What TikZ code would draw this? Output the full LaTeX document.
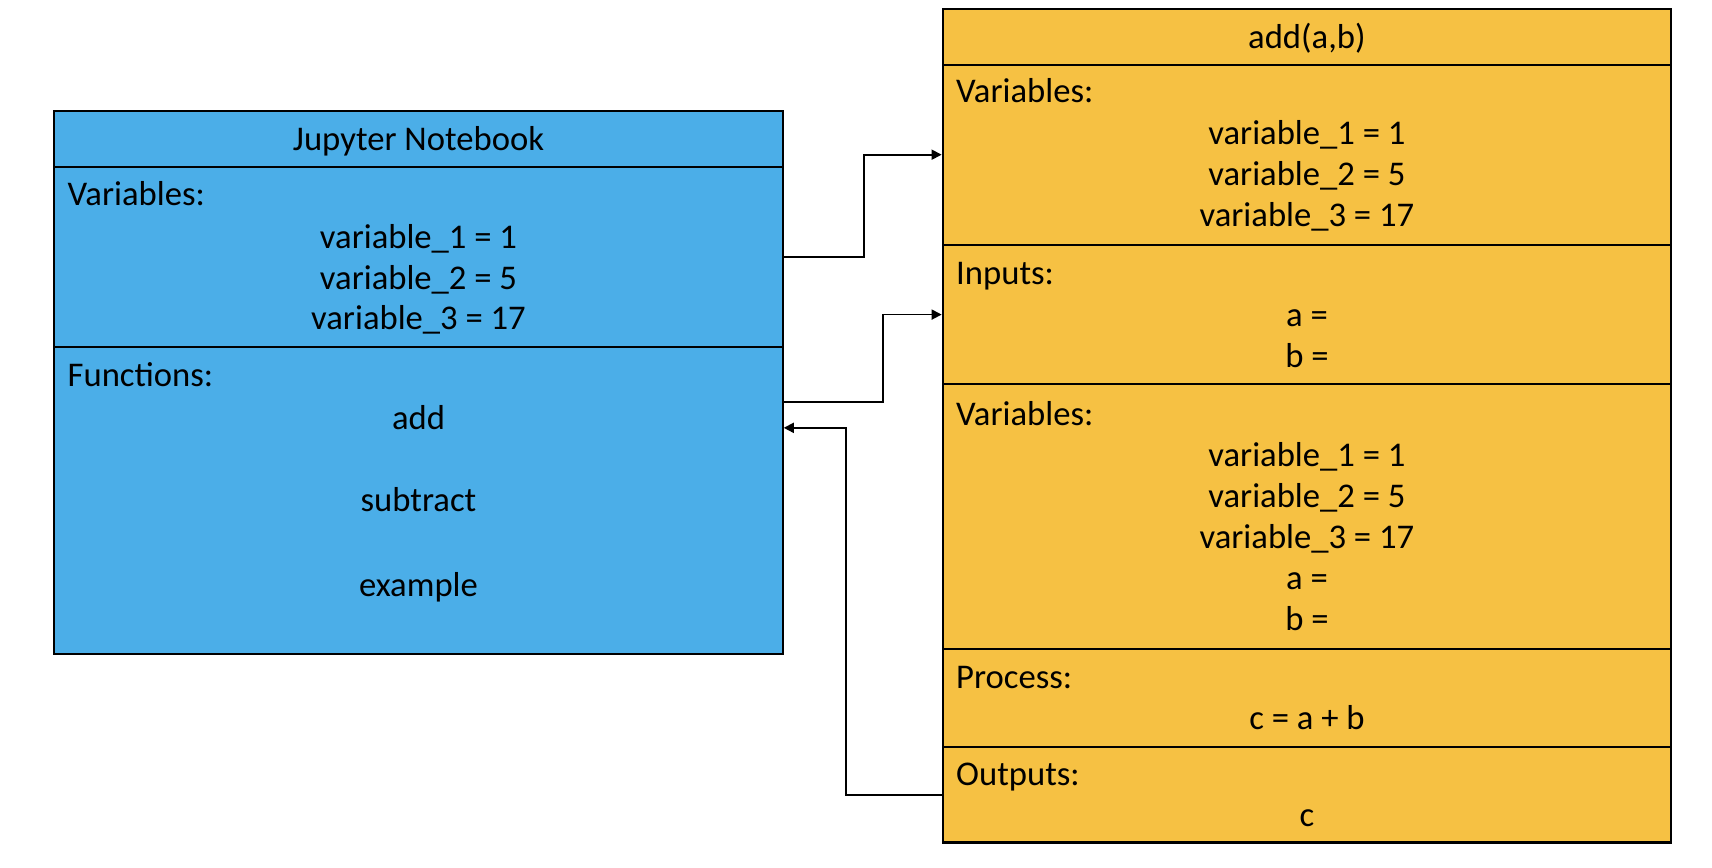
\documentclass[tikz,border=0pt]{standalone}
\usepackage{fontspec}
\setmainfont{Carlito}
\usepackage{tikz}
\usetikzlibrary{calc}
\usetikzlibrary{arrows.meta}

\definecolor{jupblue}{RGB}{75,174,232}
\definecolor{fungold}{RGB}{246,193,67}

\tikzset{
  sect/.style={draw, line width=0.6pt, minimum width=7.28cm, inner sep=0pt},
  lbl/.style={anchor=base west, inner sep=0pt, font=\fontsize{9.85}{11.8}\selectfont},
  itm/.style={anchor=base, inner sep=0pt, font=\fontsize{9.85}{11.8}\selectfont},
  flow/.style={line width=0.5pt, -{Triangle[length=1mm,width=1mm]}}
}

\begin{document}
\begin{tikzpicture}[x=0.01cm,y=-0.01cm]
    \useasboundingbox (0,0) rectangle (1712,868);
    % Define the columns of the two boxes
    \def\lx{418.5}  % centre of the notebook box
    \def\rx{1306.9}  % centre of the function box
    \def\lt{67}  % left edge of the notebook labels
    \def\rt{955.5}  % left edge of the function labels

    % Draw the notebook box
    \node[sect, fill=jupblue, minimum height=0.563cm] (ltitle) at (\lx,138.85) {};
    \node[sect, fill=jupblue, minimum height=1.8cm] (lvar) at (\lx,257) {};
    \node[sect, fill=jupblue, minimum height=3.073cm] (lfun) at (\lx,500.65) {};

    % Draw the function box
    \node[sect, fill=fungold, minimum height=0.557cm] (rtitle) at (\rx,36.85) {};
    \node[sect, fill=fungold, minimum height=1.8cm] (rvar) at (\rx,154.7) {};
    \node[sect, fill=fungold, minimum height=1.398cm] (rinp) at (\rx,314.6) {};
    \node[sect, fill=fungold, minimum height=2.643cm] (rloc) at (\rx,516.65) {};
    \node[sect, fill=fungold, minimum height=0.982cm] (rproc) at (\rx,697.9) {};
    \node[sect, fill=fungold, minimum height=0.955cm] (rout) at (\rx,794.75) {};

    % Notebook texts
    \node[itm] (lhead) at (\lx,151) {Jupyter Notebook};
    \node[lbl] (lvarlbl) at (\lt,206) {Variables:};
    \foreach \n/\v/\y in {1/1/248.7, 2/5/290, 3/17/330}
        \node[itm] (lv\n) at (\lx,\y) {variable\_\n{} = \v};
    \node[lbl] (lfunlbl) at (\lt,387) {Functions:};
    \node[itm] (ladd) at (\lx,430) {add};
    \node[itm] (lsub) at (\lx,512) {subtract};
    \node[itm] (lexa) at (\lx,597) {example};

    % Function texts
    \node[itm] (rhead) at (\rx,49) {add(a,b)};
    \node[lbl] (rvarlbl) at (\rt,103) {Variables:};
    \foreach \n/\v/\y in {1/1/145, 2/5/186, 3/17/227}
        \node[itm] (rv\n) at (\rx,\y) {variable\_\n{} = \v};
    \node[lbl] (rinplbl) at (\rt,285) {Inputs:};
    \node[itm] (ra) at (\rx,327) {a =};
    \node[itm] (rb) at (\rx,368) {b =};
    \node[lbl] (rloclbl) at (\rt,426) {Variables:};
    \foreach \n/\v/\y in {1/1/467, 2/5/508, 3/17/549}
        \node[itm] (rw\n) at (\rx,\y) {variable\_\n{} = \v};
    \node[itm] (rwa) at (\rx,590) {a =};
    \node[itm] (rwb) at (\rx,631) {b =};
    \node[lbl] (rproclbl) at (\rt,688.7) {Process:};
    \node[itm] (rsum) at (\rx,730) {c = a + b};
    \node[lbl] (routlbl) at (\rt,785.3) {Outputs:};
    \node[itm] (rc) at (\rx,827) {c};

    % Draw the connectors
    \draw[flow] (lvar.east) -- ++(80,0) |- (rvar.west);
    \draw[flow] ($(lfun.north east)+(0,56)$) -- ++(99,0) |- (rinp.west);
    \draw[flow] (rout.west) -- ++(-96,0) |- ($(lfun.north east)+(0,82)$);
\end{tikzpicture}
\end{document}
